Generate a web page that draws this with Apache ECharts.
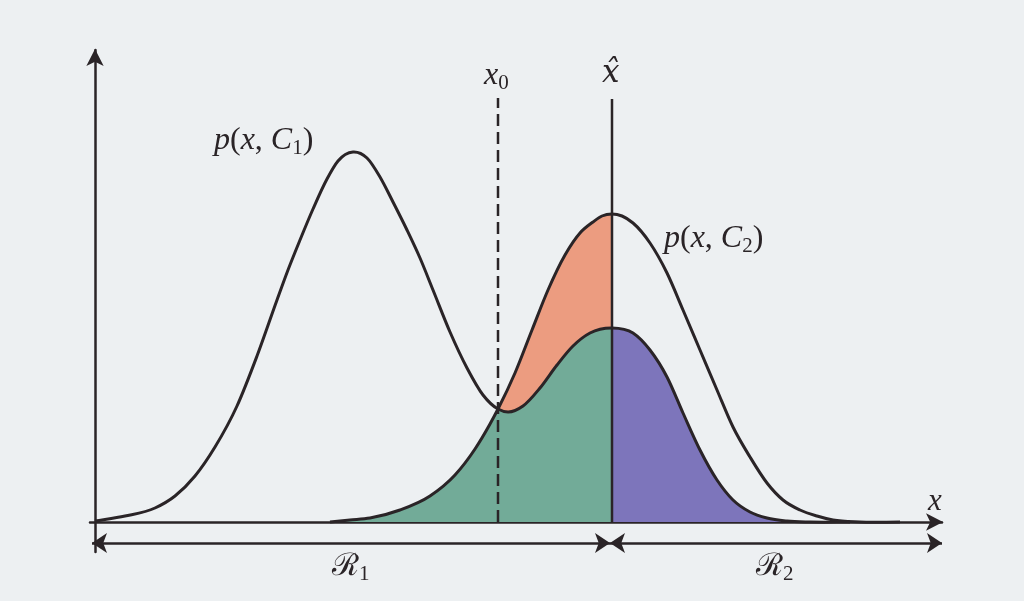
<!DOCTYPE html>
<html>
<head>
<meta charset="utf-8">
<script src="https://cdn.jsdelivr.net/npm/echarts@6/dist/echarts.min.js"></script>
<style>
html,body{margin:0;padding:0;background:#edf0f2;}
#c{width:1024px;height:601px;}
</style>
</head>
<body>
<div id="c"></div>
<script>
const p1X = [0,30,60,80,100,120,142,162,182,193,205,218,232,243,258,272,285,298,312,325,338,355,372,388,403,413,428,445,462,478,495,517,538,555,572,588,605,622,638,655,672,692,715,755];
const p1Y = [1,6,14,26,46,75,116,166,222,252,282,313,343,361,370,364,345,320,292,264,232,190,154,127,113,110,116,134,157,176,189,194,189,172,145,109,72,42,22,10,4,1,0,0];
const p2X = [235,255,275,305,335,360,380,395,403,420,437,453,470,485,498,507,517,527,538,555,572,588,605,622,638,655,672,688,705,722,738,765,805];
const p2Y = [0,2,4,12,26,47,73,98,113,149,192,232,267,289,300,306,308,306,299,279,249,212,172,132,95,65,39,22,12,6,2,0,0];
const x0 = 403;      // dashed threshold x0
const xHat = 517;    // decision boundary x-hat
const xMax = 847;
const yMax = 472;
const r1Range = [-3, 515];
const r2Range = [515, 847];
const regionY = -21;

const ink = '#2a2427';
const pts = (xs, ys) => xs.map((x, i) => [x, ys[i]]);
const P1 = pts(p1X, p1Y);
const P2 = pts(p2X, p2Y);

// Cubic Hermite (in x) bezier segments through pixel points
function segs(P) {
  const n = P.length, h = [], d = [], m = [];
  for (let i = 0; i < n - 1; i++) {
    h.push(P[i + 1][0] - P[i][0]);
    d.push((P[i + 1][1] - P[i][1]) / h[i]);
  }
  for (let i = 0; i < n; i++) {
    if (i === 0) m.push(d[0]);
    else if (i === n - 1) m.push(d[n - 2]);
    else m.push((d[i - 1] * h[i] + d[i] * h[i - 1]) / (h[i - 1] + h[i]));
  }
  const out = [];
  for (let i = 0; i < n - 1; i++) {
    const t = h[i] / 3;
    out.push([P[i][0] + t, P[i][1] + m[i] * t, P[i + 1][0] - t, P[i + 1][1] - m[i + 1] * t, P[i + 1][0], P[i + 1][1]]);
  }
  return out;
}
const seg = (S, a, b) => S.slice(a, b).map(s => 'C' + s.join(' ')).join(' ');
const M = p => 'M' + p[0] + ' ' + p[1] + ' ';
const L = p => ' L' + p[0] + ' ' + p[1];

function geometry(api) {
  const c = p => api.coord(p);
  const A = P1.map(c), B = P2.map(c);
  return {A, B, sA: segs(A), sB: segs(B), base: x => c([x, 0])};
}

const fillColors = {red: '#ec9c80', green: '#72ab98', blue: '#7d75bb'};

function renderFills(params, api) {
  const g = geometry(api);
  const a0 = p1X.indexOf(x0), aH = p1X.indexOf(xHat), b0 = p2X.indexOf(x0), bH = p2X.indexOf(xHat);
  const red = M(g.B[b0]) + seg(g.sB, b0, bH) + L(g.base(xHat)) + L(g.base(x0)) + ' Z';
  const green = M(g.B[0]) + seg(g.sB, 0, b0) + ' ' + seg(g.sA, a0, aH) + L(g.base(xHat)) + L(g.base(p2X[0])) + ' Z';
  const blue = M(g.A[aH]) + seg(g.sA, aH, g.A.length - 1) + L(g.base(p1X[p1X.length - 1])) + L(g.base(xHat)) + ' Z';
  return {type: 'group', children: [
    {type: 'path', shape: {pathData: red}, style: {fill: fillColors.red, stroke: null}},
    {type: 'path', shape: {pathData: green}, style: {fill: fillColors.green, stroke: null}},
    {type: 'path', shape: {pathData: blue}, style: {fill: fillColors.blue, stroke: null}}
  ]};
}
function renderCurves(params, api) {
  const g = geometry(api);
  const l1 = M(g.A[0]) + seg(g.sA, 0, g.A.length - 1);
  const l2 = M(g.B[0]) + seg(g.sB, 0, g.B.length - 1);
  const st = {fill: null, stroke: ink, lineWidth: 3, lineJoin: 'round'};
  return {type: 'group', children: [
    {type: 'path', shape: {pathData: l1}, style: st},
    {type: 'path', shape: {pathData: l2}, style: st}
  ]};
}

const chart = echarts.init(document.getElementById('c'), null, {renderer: 'canvas'});
const serif = 'Liberation Serif';
const rich = {
  i: {fontFamily: serif, fontStyle: 'italic', fontSize: 32, fill: ink},
  r: {fontFamily: serif, fontSize: 32, fill: ink},
  s: {fontFamily: serif, fontSize: 21, fill: ink, padding: [15, 0, 0, 0]}
};
chart.setOption({
  animation: false,
  backgroundColor: '#edf0f2',
  grid: {left: 90, right: 82, top: 50, bottom: 49},
  xAxis: {
    type: 'value', min: -5, max: xMax,
    axisLine: {show: true, onZero: true, symbol: ['none', 'arrow'], symbolSize: [13, 17], symbolOffset: [0, 1], lineStyle: {color: ink, width: 2.5}},
    axisTick: {show: false}, axisLabel: {show: false}, splitLine: {show: false}
  },
  yAxis: {
    type: 'value', min: -30, max: yMax,
    axisLine: {show: true, onZero: true, symbol: ['none', 'arrow'], symbolSize: [13, 17], symbolOffset: [0, 1], lineStyle: {color: ink, width: 2.5}},
    axisTick: {show: false}, axisLabel: {show: false}, splitLine: {show: false}
  },
  series: [
    {type: 'custom', coordinateSystem: 'cartesian2d', data: [[0, 0]], renderItem: renderFills, z: 1, silent: true, clip: false},
    {type: 'line', data: [[x0, 0], [x0, 424]], symbol: 'none', z: 4, silent: true,
     lineStyle: {color: ink, width: 2.5, type: [12, 6]},
     markLine: {
       silent: true, symbol: ['arrow', 'arrow'], symbolSize: 15, label: {show: false},
       lineStyle: {color: ink, width: 2.5, type: 'solid'},
       data: [
         [{coord: [r1Range[0], regionY]}, {coord: [r1Range[1], regionY]}],
         [{coord: [r2Range[0], regionY]}, {coord: [r2Range[1], regionY]}]
       ]
     }},
    {type: 'line', data: [[xHat, 0], [xHat, 423]], symbol: 'none', z: 4, silent: true,
     lineStyle: {color: ink, width: 2.5}},
    {type: 'custom', coordinateSystem: 'cartesian2d', data: [[0, 0]], renderItem: renderCurves, z: 5, silent: true, clip: false}
  ],
  graphic: [
    {type: 'text', left: 214, top: 125, style: {text: '{i|p}{r|(}{i|x}{r|, }{i|C}{s|1}{r|)}', rich}},
    {type: 'text', left: 664, top: 223, style: {text: '{i|p}{r|(}{i|x}{r|, }{i|C}{s|2}{r|)}', rich}},
    {type: 'text', left: 484, top: 60, style: {text: '{i|x}{s|0}', rich}},
    {type: 'text', left: 602, top: 58, style: {text: 'x\u0302', font: 'italic 31px "DejaVu Serif"', fill: ink}},
    {type: 'text', left: 928, top: 486, style: {text: 'x', font: 'italic 31px ' + serif, fill: ink}},
    {type: 'text', left: 332, top: 551, style: {text: '\u211B{s|1}', font: '31px "DejaVu Serif"', fill: ink, rich}},
    {type: 'text', left: 756, top: 551, style: {text: '\u211B{s|2}', font: '31px "DejaVu Serif"', fill: ink, rich}}
  ]
});
</script>
</body>
</html>
